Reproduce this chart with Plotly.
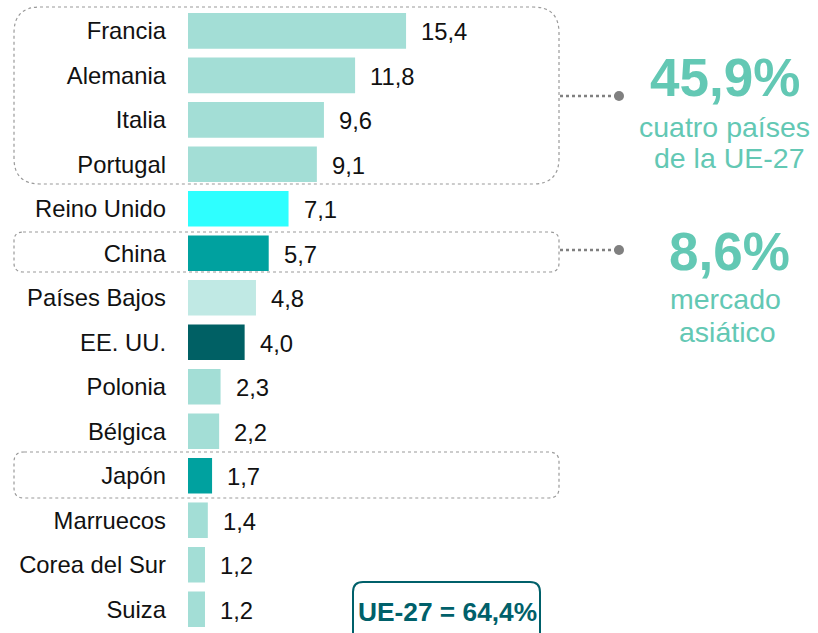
import plotly.graph_objects as go

countries = ["Francia", "Alemania", "Italia", "Portugal", "Reino Unido", "China",
             "Países Bajos", "EE. UU.", "Polonia", "Bélgica", "Japón", "Marruecos",
             "Corea del Sur", "Suiza"]
values = [15.4, 11.8, 9.6, 9.1, 7.1, 5.7, 4.8, 4.0, 2.3, 2.2, 1.7, 1.4, 1.2, 1.2]
bar_colors = ["#A3DED6", "#A3DED6", "#A3DED6", "#A3DED6", "#2EFFFF", "#00A19F",
              "#C0E9E4", "#006064", "#A3DED6", "#A3DED6", "#00A19F", "#A3DED6",
              "#A3DED6", "#A3DED6"]
value_labels = [f"{v:.1f}".replace(".", ",") for v in values]

big1 = "45,9%"
sub1 = ["cuatro países", "de la UE-27"]
big2 = "8,6%"
sub2 = ["mercado", "asiático"]
total_label = "UE-27 = 64,4%"

W, H = 818, 633
FONT = "Liberation Sans, Arial, sans-serif"
TEAL = "#63C8B4"


def px(x):
    return x / W


def py(y):
    return 1 - y / H


def rrect(x0, y0, x1, y1, r):
    return (f"M {px(x0 + r)},{py(y0)} L {px(x1 - r)},{py(y0)} "
            f"Q {px(x1)},{py(y0)} {px(x1)},{py(y0 + r)} "
            f"L {px(x1)},{py(y1 - r)} Q {px(x1)},{py(y1)} {px(x1 - r)},{py(y1)} "
            f"L {px(x0 + r)},{py(y1)} Q {px(x0)},{py(y1)} {px(x0)},{py(y1 - r)} "
            f"L {px(x0)},{py(y0 + r)} Q {px(x0)},{py(y0)} {px(x0 + r)},{py(y0)} Z")


fig = go.Figure(go.Bar(
    x=values, y=countries, orientation="h",
    marker=dict(color=bar_colors, line=dict(width=0)),
    width=0.8, hoverinfo="skip",
))

for c, v, t in zip(countries, values, value_labels):
    fig.add_annotation(x=v, y=c, xref="x", yref="y", text=t, showarrow=False,
                       xanchor="left", xshift=13, yshift=-1,
                       font=dict(family=FONT, size=23.8, color="#111111"))

x_px_per_unit = 14.16
x_max = 40
fig.update_layout(
    width=W, height=H,
    margin=dict(l=0, r=0, t=0, b=0),
    paper_bgcolor="white", plot_bgcolor="white",
    showlegend=False,
    xaxis=dict(domain=[px(188), px(188 + x_max * x_px_per_unit)], range=[0, x_max],
               visible=False, fixedrange=True),
    yaxis=dict(domain=[py(631.5), py(8.6)], range=[13.5, -0.5], type="category",
               showgrid=False, zeroline=False, showline=False, ticks="",
               ticklabelstandoff=21, fixedrange=True,
               tickfont=dict(family=FONT, size=23.8, color="#111111")),
)

box_line = dict(color="#9A9A9A", width=1.2, dash="dot")
shapes = [
    dict(type="path", xref="paper", yref="paper", path=rrect(14, 7, 559, 184, 26), line=box_line),
    dict(type="path", xref="paper", yref="paper", path=rrect(14, 232, 559, 272, 9), line=box_line),
    dict(type="path", xref="paper", yref="paper", path=rrect(14, 452, 559, 498, 10), line=box_line),
    dict(type="line", xref="paper", yref="paper", x0=px(560), x1=px(616), y0=py(96), y1=py(96),
         line=dict(color="#808080", width=2.5, dash="dot")),
    dict(type="line", xref="paper", yref="paper", x0=px(560), x1=px(616), y0=py(250), y1=py(250),
         line=dict(color="#808080", width=2.5, dash="dot")),
    dict(type="circle", xref="paper", yref="paper", x0=px(614), x1=px(624), y0=py(91), y1=py(101),
         fillcolor="#808080", line=dict(width=0)),
    dict(type="circle", xref="paper", yref="paper", x0=px(614), x1=px(624), y0=py(245), y1=py(255),
         fillcolor="#808080", line=dict(width=0)),
    dict(type="path", xref="paper", yref="paper", path=rrect(353, 582, 540, 650, 10),
         line=dict(color="#00606A", width=2)),
]
fig.update_layout(shapes=shapes)

texts = [
    (big1, 725, 77, 53, True, TEAL),
    (sub1[0], 724, 127, 28.5, False, TEAL),
    (sub1[1], 729, 158, 28.5, False, TEAL),
    (big2, 729, 251, 53, True, TEAL),
    (sub2[0], 725, 299, 28.5, False, TEAL),
    (sub2[1], 727, 332, 28.5, False, TEAL),
    (total_label, 447, 612, 26.3, True, "#00606A"),
]
for t, x, y, s, b, col in texts:
    fig.add_annotation(x=px(x), y=py(y), xref="paper", yref="paper",
                       text=f"<b>{t}</b>" if b else t, showarrow=False,
                       xanchor="center", yanchor="middle",
                       font=dict(family=FONT, size=s, color=col))

fig.write_html("out.html", config={"displayModeBar": False},
               post_script="document.body.style.margin='0';document.body.style.overflow='hidden';")
